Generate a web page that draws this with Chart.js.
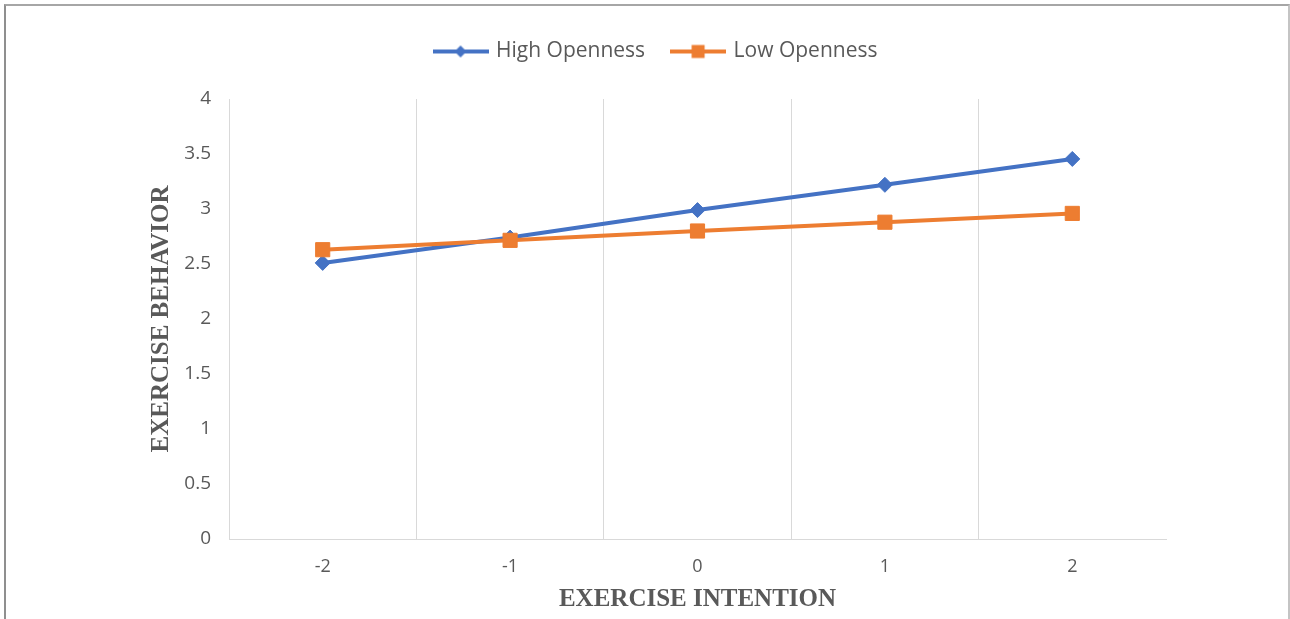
<!DOCTYPE html>
<html><head><meta charset="utf-8">
<script src="https://cdn.jsdelivr.net/npm/chart.js@4/dist/chart.umd.min.js"></script>
<style>
html,body{margin:0;padding:0;background:#fff;}
#wrap{position:relative;width:1290px;height:619px;overflow:hidden;}
#c{position:absolute;left:0;top:0;}
#frame{position:absolute;left:4px;top:4px;width:1282px;height:700px;border-left:2px solid #8f8f8f;border-top:2px solid #a6a6a6;border-right:2px solid #c4c4c4;pointer-events:none;}
</style></head><body>
<div id="wrap"><canvas id="c" width="1290" height="619"></canvas><div id="frame"></div></div>
<script>
// ---- data ----
const categories = ['-2', '-1', '0', '1', '2'];
const highOpenness = [2.51, 2.74, 2.99, 3.22, 3.455];
const lowOpenness = [2.63, 2.715, 2.80, 2.88, 2.96];
const seriesNames = ['High Openness', 'Low Openness'];
const yMin = 0, yMax = 4, yStep = 0.5;
const xTitle = 'EXERCISE INTENTION';
const yTitle = 'EXERCISE BEHAVIOR';

const BLUE = '#4472C4', ORANGE = '#ED7D31', TXT = '#595959', GRID = '#d9d9d9';

function legendIcon(color, shape) {
  const cv = document.createElement('canvas');
  cv.width = 56; cv.height = 16;
  const g = cv.getContext('2d');
  g.strokeStyle = color; g.lineWidth = 4;
  g.beginPath(); g.moveTo(0, 8); g.lineTo(56, 8); g.stroke();
  g.fillStyle = color;
  g.beginPath();
  if (shape === 'diamond') {
    g.moveTo(28, 2); g.lineTo(34, 8); g.lineTo(28, 14); g.lineTo(22, 8); g.closePath();
  } else {
    g.rect(21.5, 1.5, 13, 13);
  }
  g.fill();
  return cv;
}

// add extra room below the legend (space between legend and plot)
const legendSpacer = {
  id: 'legendSpacer',
  beforeInit(chart) {
    const lg = chart.legend;
    if (lg && !lg._patched) {
      const orig = lg.fit;
      lg.fit = function () { orig.call(this); this.height += 27; };
      lg._patched = true;
    }
  }
};

new Chart(document.getElementById('c'), {
  type: 'line',
  data: {
    labels: categories,
    datasets: [
      { label: seriesNames[0], data: highOpenness, borderColor: BLUE, backgroundColor: BLUE, order: 2,
        borderWidth: 4, pointStyle: 'rectRot', pointRadius: 7.5, pointHoverRadius: 7.5,
        pointBorderWidth: 1, pointBackgroundColor: BLUE, pointBorderColor: BLUE, tension: 0 },
      { label: seriesNames[1], data: lowOpenness, borderColor: ORANGE, backgroundColor: ORANGE, order: 1,
        borderWidth: 4, pointStyle: 'rect', pointRadius: 10, pointHoverRadius: 10,
        pointBorderWidth: 1, pointBackgroundColor: ORANGE, pointBorderColor: ORANGE, tension: 0 }
    ]
  },
  plugins: [legendSpacer],
  options: {
    responsive: false,
    animation: false,
    layout: { padding: { left: 147, right: 124, top: 13, bottom: 0 } },
    plugins: {
      tooltip: { enabled: false },
      legend: {
        position: 'top',
        labels: {
          usePointStyle: true,
          pointStyleWidth: 50,
          padding: 28,
          color: TXT,
          font: { family: 'Open Sans', size: 21 },
          generateLabels(chart) {
            const icons = [legendIcon(BLUE, 'diamond'), legendIcon(ORANGE, 'square')];
            return chart.data.datasets.map((ds, i) => ({
              text: ds.label, fillStyle: ds.borderColor, strokeStyle: ds.borderColor,
              lineWidth: 0, pointStyle: icons[i], datasetIndex: i, fontColor: TXT, hidden: false
            }));
          }
        }
      }
    },
    scales: {
      x: {
        type: 'category',
        offset: true,
        grid: {
          display: true, offset: true, drawTicks: false, lineWidth: 1,
          color: c => (c.type === 'tick' ? GRID : 'rgba(0,0,0,0)')
        },
        border: { display: true, color: GRID, width: 1 },
        ticks: { color: TXT, font: { family: 'Open Sans', size: 18 }, padding: 17 },
        title: { display: true, text: xTitle, color: TXT,
          font: { family: 'Liberation Serif', size: 25, weight: 'bold' },
          padding: { top: 0, bottom: 4 } },
        afterFit(s) { s.height = 80; }
      },
      y: {
        min: yMin, max: yMax,
        grid: { display: false, drawTicks: false },
        border: { display: true, color: GRID, width: 1 },
        ticks: { stepSize: yStep, color: TXT, font: { family: 'Open Sans', size: 19 }, padding: 18,
          callback: v => String(Math.round(v * 100) / 100) },
        title: { display: true, text: yTitle, color: TXT,
          font: { family: 'Liberation Serif', size: 25, weight: 'bold' },
          padding: { top: 0, bottom: 0 } },
        afterFit(s) { s.width = 82; }
      }
    }
  }
});
</script>
</body></html>
